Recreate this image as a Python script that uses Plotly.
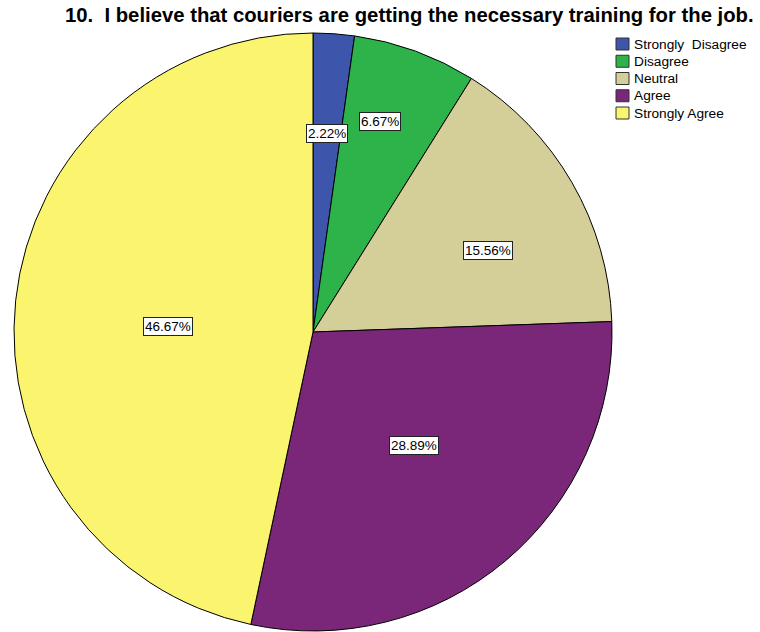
import math
import plotly.graph_objects as go

categories = ["Strongly  Disagree", "Disagree", "Neutral", "Agree", "Strongly Agree"]
counts = [1, 3, 7, 13, 21]
percent_labels = ["2.22%", "6.67%", "15.56%", "28.89%", "46.67%"]
title_text = "10.  I believe that couriers are getting the necessary training for the job."

colors = ["#3D56AB", "#2DB34A", "#D4CE98", "#7B2779", "#FAF46E"]
# label placement style (fraction of radius, angular nudge in degrees)
label_radius = [0.664, 0.740, 0.646, 0.509, 0.485]
label_angle_shift = [0.0, -2.4, 4.9, -1.5, -4.0]

W, H = 760, 632
cx_px, cy_px, R = 313, 332, 299


def px(x):
    return x / W


def py(y):
    return 1 - y / H


fig = go.Figure(go.Pie(
    labels=categories, values=counts, sort=False, direction="clockwise", rotation=0,
    marker=dict(colors=colors, line=dict(color="#000000", width=1)),
    textinfo="none", hoverinfo="label+percent", showlegend=False,
    domain=dict(x=[px(cx_px - R), px(cx_px + R)], y=[py(cy_px + R), py(cy_px - R)]),
))

# percentage labels in boxes
total = sum(counts)
cum = 0
for i, v in enumerate(counts):
    mid = (cum + v / 2) / total * 2 * math.pi + math.radians(label_angle_shift[i])
    cum += v
    r = R * label_radius[i]
    x = cx_px + r * math.sin(mid)
    y = cy_px - r * math.cos(mid)
    fig.add_annotation(
        x=px(x), y=py(y), xref="paper", yref="paper", xanchor="center", yanchor="middle",
        text=percent_labels[i], showarrow=False,
        font=dict(family="Liberation Sans, Arial, sans-serif", size=13.5, color="#000000"),
        bgcolor="#FFFFFF", bordercolor="#222222", borderwidth=1, borderpad=1,
    )

# title
fig.add_annotation(
    x=px(63), y=py(15), xref="paper", yref="paper", xanchor="left", yanchor="middle",
    text="<b>" + title_text + "</b>", showarrow=False,
    font=dict(family="Liberation Sans, Arial, sans-serif", size=20.3, color="#000000"),
)

# legend (SPSS style)
leg_x0, leg_y0, leg_dy = 616, 44, 17.25
for i, (cat, col) in enumerate(zip(categories, colors)):
    yc = leg_y0 + i * leg_dy
    fig.add_shape(type="rect", xref="paper", yref="paper",
                  x0=px(leg_x0), x1=px(leg_x0 + 13), y0=py(yc + 6), y1=py(yc - 6),
                  fillcolor=col, line=dict(color="#333333", width=1))
    fig.add_annotation(
        x=px(leg_x0 + 16), y=py(yc), xref="paper", yref="paper", xanchor="left", yanchor="middle",
        text=cat, showarrow=False,
        font=dict(family="Liberation Sans, Arial, sans-serif", size=13.7, color="#000000"),
    )

fig.update_layout(
    width=W, height=H, margin=dict(l=0, r=0, t=0, b=0, pad=0, autoexpand=False),
    paper_bgcolor="#FFFFFF", plot_bgcolor="#FFFFFF",
    showlegend=False,
)

fig.write_html("out.html", config={"displayModeBar": False},
               post_script="document.body.style.margin='0';")
